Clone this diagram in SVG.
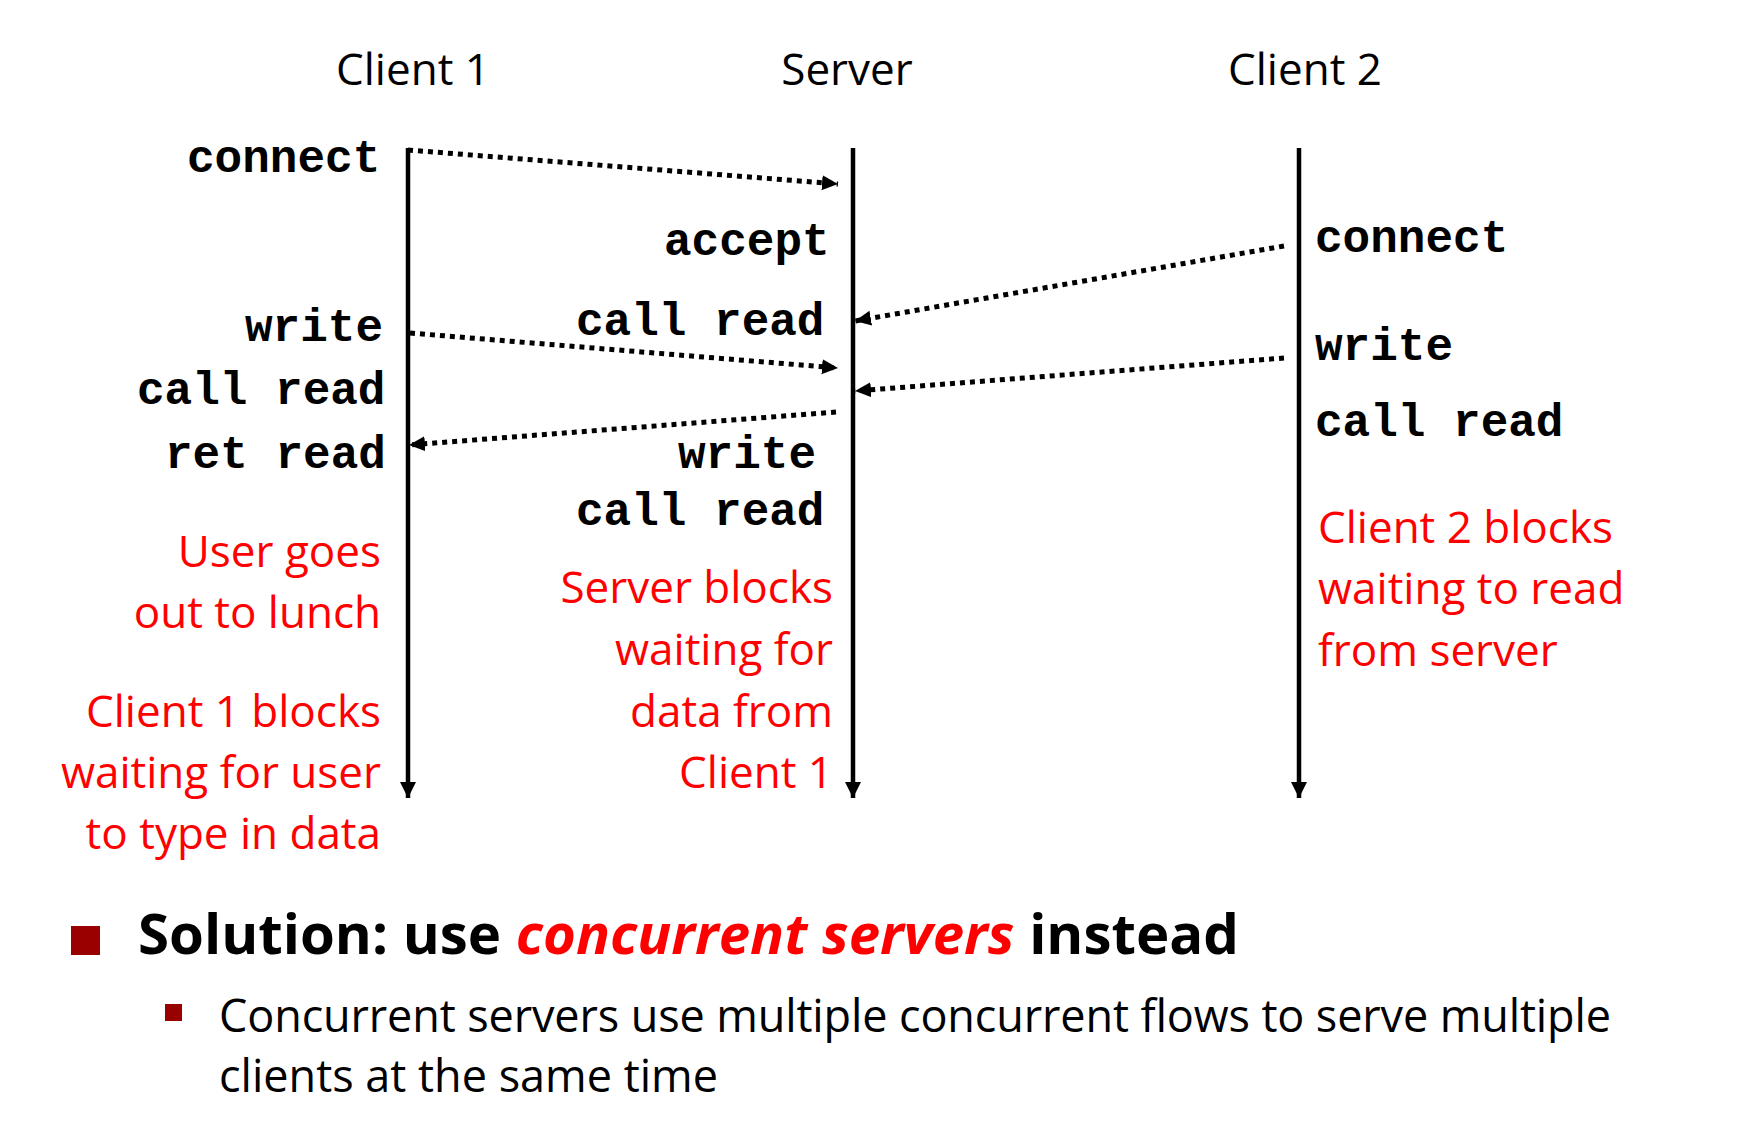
<svg xmlns="http://www.w3.org/2000/svg" width="1747" height="1137" viewBox="0 0 1747 1137">
<style>
.title{font-family:"Open Sans","Liberation Sans",sans-serif;font-size:44px;fill:#000;text-anchor:middle}
.mono{font-family:"Liberation Mono","Courier New",monospace;font-weight:bold;font-size:46px;fill:#000}
.note{font-family:"Open Sans","Liberation Sans",sans-serif;font-size:44px;fill:#FF0000}
.life{stroke:#000;stroke-width:4.5;fill:none}
.msg{stroke:#000;stroke-width:5;stroke-dasharray:5 5;fill:none}
.head{font-family:"Open Sans","Liberation Sans",sans-serif;font-weight:bold;font-size:56px;fill:#000}
.sub{font-family:"Open Sans","Liberation Sans",sans-serif;font-size:45px;fill:#000}
</style>
<defs>
<marker id="ah" markerUnits="userSpaceOnUse" markerWidth="17" markerHeight="16" refX="16" refY="7.5" orient="auto">
<path d="M0,0 L16,7.5 L0,15 Z" fill="#000"/>
</marker>
<marker id="lh" markerUnits="userSpaceOnUse" markerWidth="18" markerHeight="18" refX="16" refY="8" orient="auto">
<path d="M0,0 L16,8 L0,16 Z" fill="#000"/>
</marker>
</defs>
<rect width="1747" height="1137" fill="#fff"/>

<g id="client1">
<text class="title" x="413" y="85">Client 1</text>
<line class="life" x1="408" y1="148" x2="408" y2="798" marker-end="url(#lh)"/>
<text class="mono" x="187" y="172">connect</text>
<text class="mono" x="245" y="341">write</text>
<text class="mono" x="137" y="404">call read</text>
<text class="mono" x="165" y="468">ret read</text>
<text class="note" text-anchor="end"><tspan x="381" y="567">User goes</tspan><tspan x="381" y="628">out to lunch</tspan><tspan x="381" y="727">Client 1 blocks</tspan><tspan x="381" y="788">waiting for user</tspan><tspan x="381" y="849">to type in data</tspan></text>
</g>

<g id="server">
<text class="title" x="847" y="85">Server</text>
<line class="life" x1="853" y1="148" x2="853" y2="798" marker-end="url(#lh)"/>
<text class="mono" x="664" y="255">accept</text>
<text class="mono" x="576" y="335">call read</text>
<text class="mono" x="678" y="468">write</text>
<text class="mono" x="576" y="525">call read</text>
<text class="note" text-anchor="end"><tspan x="833" y="603">Server blocks</tspan><tspan x="833" y="665">waiting for</tspan><tspan x="833" y="727">data from</tspan><tspan x="833" y="788">Client 1</tspan></text>
</g>

<g id="client2">
<text class="title" x="1305" y="85">Client 2</text>
<line class="life" x1="1299" y1="148" x2="1299" y2="798" marker-end="url(#lh)"/>
<text class="mono" x="1315" y="252">connect</text>
<text class="mono" x="1315" y="360">write</text>
<text class="mono" x="1315" y="436">call read</text>
<text class="note"><tspan x="1318" y="543">Client 2 blocks</tspan><tspan x="1318" y="604">waiting to read</tspan><tspan x="1318" y="666">from server</tspan></text>
</g>

<g id="connectors">
<path class="msg" d="M408,150 L838,184" marker-end="url(#ah)"/>
<path class="msg" d="M1284,246 L855,321" marker-end="url(#ah)"/>
<path class="msg" d="M410,333 L838,368" marker-end="url(#ah)"/>
<path class="msg" d="M1284,358 L855,391" marker-end="url(#ah)"/>
<path class="msg" d="M836,412 L409,445" marker-end="url(#ah)"/>
</g>

<g id="solution">
<rect x="71" y="926" width="29" height="29" fill="#990000"/>
<text class="head" x="138" y="954" textLength="1101" lengthAdjust="spacingAndGlyphs">Solution: use <tspan fill="#FF0000" font-style="italic">concurrent servers</tspan> instead</text>
<rect x="165" y="1004" width="17" height="17" fill="#990000"/>
<text class="sub" x="219" y="1032" textLength="1392" lengthAdjust="spacing">Concurrent servers use multiple concurrent flows to serve multiple</text>
<text class="sub" x="219" y="1092">clients at the same time</text>
</g>
</svg>
